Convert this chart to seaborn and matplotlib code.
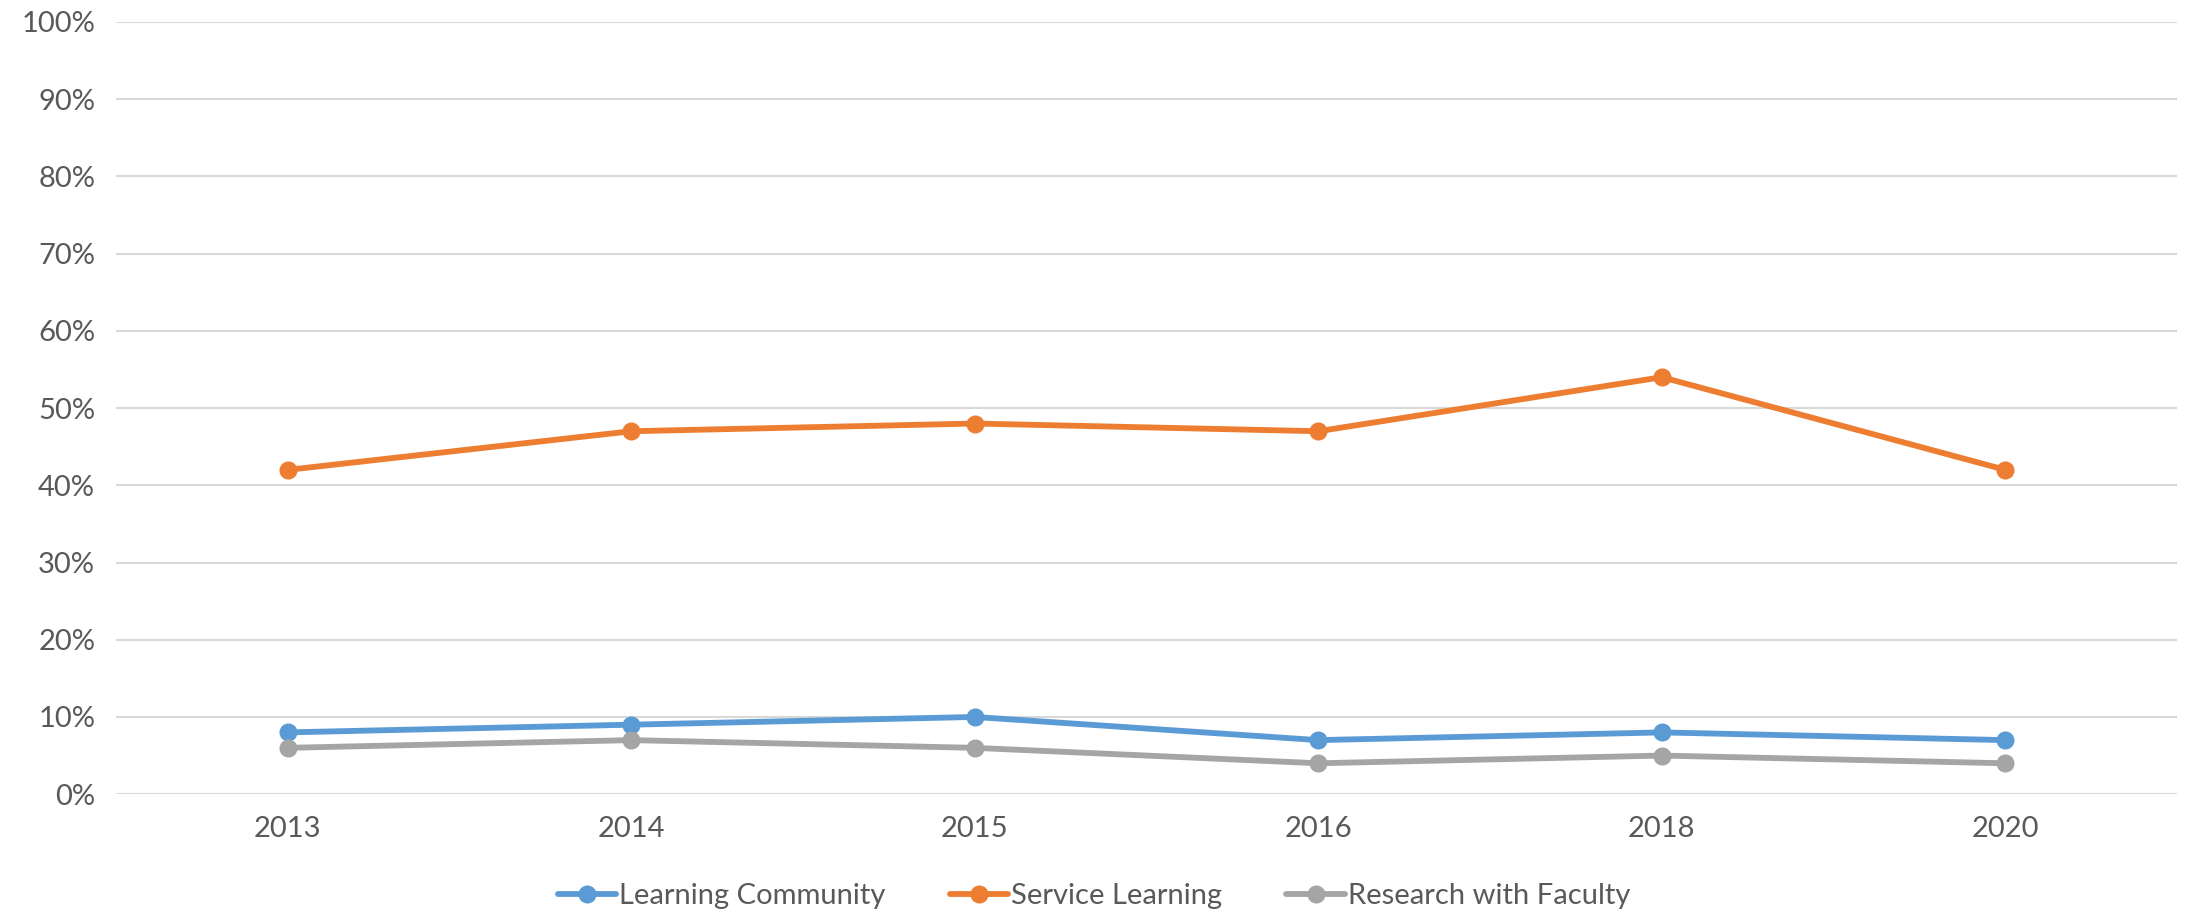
import matplotlib
matplotlib.use("Agg")
import matplotlib.pyplot as plt
import seaborn as sns
import pandas as pd
from matplotlib.ticker import FuncFormatter, MultipleLocator

years = ["2013", "2014", "2015", "2016", "2018", "2020"]
learning_community = [8, 9, 10, 7, 8, 7]
service_learning = [42, 47, 48, 47, 54, 42]
research_with_faculty = [6, 7, 6, 4, 5, 4]
series_names = ["Learning Community", "Service Learning", "Research with Faculty"]
colors = ["#5B9BD5", "#ED7D31", "#A5A5A5"]

rows = []
for name, vals in zip(series_names, [learning_community, service_learning, research_with_faculty]):
    for y, v in zip(years, vals):
        rows.append({"Year": y, "Value": v / 100.0, "Series": name})
df = pd.DataFrame(rows)

sns.set_theme(style="white")
plt.rcParams['font.family'] = ['Lato', 'DejaVu Sans']

fig = plt.figure(figsize=(21.88, 9.16), dpi=100)
ax = fig.add_axes([0.053, 0.133, 0.942, 0.843])

sns.lineplot(data=df, x="Year", y="Value", hue="Series", hue_order=series_names,
             palette=colors, marker="o", markersize=13, markeredgewidth=0,
             linewidth=4.2, sort=False, ax=ax, legend=True)

ax.set_xlim(-0.5, len(years) - 0.5)
ax.set_ylim(0, 1.0)
ax.yaxis.set_major_locator(MultipleLocator(0.1))
ax.yaxis.set_major_formatter(FuncFormatter(lambda v, p: f"{int(round(v*100))}%"))
ax.grid(axis="y", color="#D9D9D9", linewidth=1.5)
ax.set_axisbelow(True)
for s in ax.spines.values():
    s.set_visible(False)
ax.set_xlabel("")
ax.set_ylabel("")
ax.tick_params(axis="both", length=0, labelsize=21, colors="#595959")
ax.tick_params(axis="y", pad=15)
ax.tick_params(axis="x", pad=16)

handles, labels = ax.get_legend_handles_labels()
ax.get_legend().remove()
leg = fig.legend(handles, labels, loc="center", bbox_to_anchor=(0.5, 0.022), ncol=3, frameon=False,
                 fontsize=21, handlelength=2.0, handletextpad=0.1, columnspacing=2.2)
for t in leg.get_texts():
    t.set_color("#595959")

fig.savefig("out.png", dpi=100)
